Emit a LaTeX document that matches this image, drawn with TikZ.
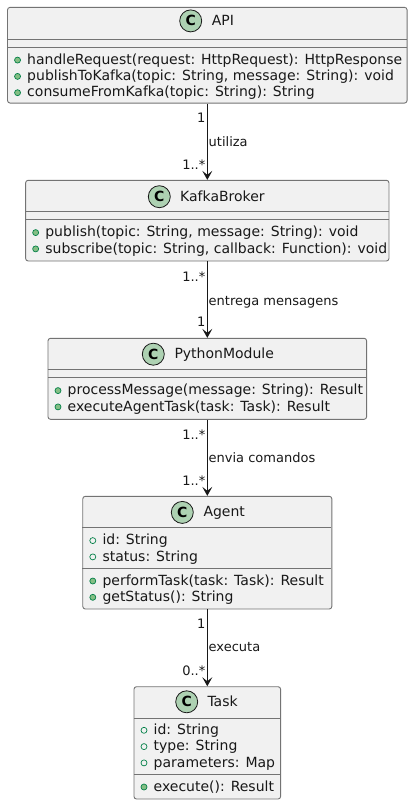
\documentclass[tikz,border=0pt]{standalone}
\usepackage{fontspec}
\setmainfont{DejaVu Sans}
\usetikzlibrary{arrows.meta}
\definecolor{boxbg}{HTML}{F1F1F1}
\definecolor{boxln}{HTML}{181818}
\definecolor{cbg}{HTML}{ADD1B2}
\definecolor{mfill}{HTML}{84BE84}
\definecolor{mline}{HTML}{038048}
\tikzset{
  classbox/.style={draw=black!55, line width=0.9bp, fill=boxbg, rounded corners=2.5bp, inner sep=0pt},
  sepline/.style={draw=black!55, line width=0.9bp},
  cicon/.style={circle, draw=boxln, line width=0.8bp, fill=cbg, minimum size=22bp, inner sep=0pt,
    font=\fontsize{14bp}{14bp}\selectfont\bfseries},
  ttl/.style={anchor=base west, inner sep=0pt, text=boxln, font=\fontsize{14bp}{16bp}\selectfont},
  mtxt/.style={anchor=base west, inner sep=0pt, text=boxln, font=\fontsize{14bp}{16bp}\selectfont},
  micon/.style={circle, draw=mline, fill=mfill, line width=0.7bp, minimum size=6bp, inner sep=0pt},
  ficon/.style={circle, draw=mline, fill=none, line width=0.7bp, minimum size=6bp, inner sep=0pt},
  mult/.style={anchor=base east, inner sep=0pt, text=boxln, font=\fontsize{13bp}{15bp}\selectfont},
  rel/.style={anchor=base west, inner sep=0pt, text=boxln, font=\fontsize{13bp}{15bp}\selectfont},
  conn/.style={draw=boxln, line width=1bp, -{Stealth[length=9bp,width=10bp,inset=4bp]}},
}
\newcommand\clsmem[5]{%
  \node[#4icon] (#1i) at (#2+10, #3-4.2) {};
  \node[mtxt] (#1) at (#2+19.5, #3) {#5};}
\begin{document}
\begin{tikzpicture}[x=1bp,y=-1bp]
\useasboundingbox (0,0) rectangle (413,805);

% API
\node[classbox, minimum width=399.5bp, minimum height=95.7bp] (api) at (207.3,55.2) {};
\draw[sepline] (api.north west) ++(0,32.2) -- ++(399.5,0);
\draw[sepline] (api.north west) ++(0,40.2) -- ++(399.5,0);
\node[cicon] (apic) at (190.7,20.9) {C};
\node[ttl] (apit) at (211.7,25.7) {API};
\clsmem{apim1}{7.55}{64.3}{m}{handleRequest(request: HttpRequest): HttpResponse}
\clsmem{apim2}{7.55}{80.6}{m}{publishToKafka(topic: String, message: String): void}
\clsmem{apim3}{7.55}{96.9}{m}{consumeFromKafka(topic: String): String}

% KafkaBroker
\node[classbox, minimum width=363.3bp, minimum height=80.7bp] (kafka) at (207.3,220.65) {};
\draw[sepline] (kafka.north west) ++(0,32) -- ++(363.3,0);
\draw[sepline] (kafka.north west) ++(0,40) -- ++(363.3,0);
\node[cicon] (kafkac) at (159.3,196.7) {C};
\node[ttl] (kafkat) at (180,201.5) {KafkaBroker};
\clsmem{kafkam1}{25.65}{236.8}{m}{publish(topic: String, message: String): void}
\clsmem{kafkam2}{25.65}{253.1}{m}{subscribe(topic: String, callback: Function): void}

% PythonModule
\node[classbox, minimum width=318.6bp, minimum height=81bp] (py) at (207.3,378.8) {};
\draw[sepline] (py.north west) ++(0,32) -- ++(318.6,0);
\draw[sepline] (py.north west) ++(0,40) -- ++(318.6,0);
\node[cicon] (pyc) at (153.3,354.2) {C};
\node[ttl] (pyt) at (174.3,358.7) {PythonModule};
\clsmem{pym1}{48}{394.8}{m}{processMessage(message: String): Result}
\clsmem{pym2}{48}{411.1}{m}{executeAgentTask(task: Task): Result}

% Agent
\node[classbox, minimum width=249bp, minimum height=112.7bp] (agent) at (207.3,552.65) {};
\draw[sepline] (agent.north west) ++(0,32) -- ++(249,0);
\draw[sepline] (agent.north west) ++(0,72.4) -- ++(249,0);
\node[cicon] (agentc) at (182.3,512.4) {C};
\node[ttl] (agentt) at (203.3,516.9) {Agent};
\clsmem{agentf1}{82.8}{544.8}{f}{id: String}
\clsmem{agentf2}{82.8}{561.1}{f}{status: String}
\clsmem{agentm1}{82.8}{585.2}{m}{performTask(task: Task): Result}
\clsmem{agentm2}{82.8}{601.5}{m}{getStatus(): String}

% Task
\node[classbox, minimum width=146.6bp, minimum height=112.3bp] (task) at (207.3,742.85) {};
\draw[sepline] (task.north west) ++(0,32) -- ++(146.6,0);
\draw[sepline] (task.north west) ++(0,88.6) -- ++(146.6,0);
\node[cicon] (taskc) at (186.7,701.8) {C};
\node[ttl] (taskt) at (207.3,706.3) {Task};
\clsmem{taskf1}{134}{734.5}{f}{id: String}
\clsmem{taskf2}{134}{750.8}{f}{type: String}
\clsmem{taskf3}{134}{767.1}{f}{parameters: Map}
\clsmem{taskm1}{134}{791.2}{m}{execute(): Result}

% connectors
\draw[conn] (api.south) -- (kafka.north);
\draw[conn] (kafka.south) -- (py.north);
\draw[conn] (py.south) -- (agent.north);
\draw[conn] (agent.south) -- (task.north);

% labels
\node[mult] (l1a) at (205.5,122.5) {1};
\node[rel]  (l1b) at (208.5,146.5) {utiliza};
\node[mult] (l1c) at (205.5,169.5) {1..*};
\node[mult] (l2a) at (205.5,281.5) {1..*};
\node[rel]  (l2b) at (208.5,305.2) {entrega mensagens};
\node[mult] (l2c) at (205.5,326.2) {1};
\node[mult] (l3a) at (205.5,439.5) {1..*};
\node[rel]  (l3b) at (208.5,462.2) {envia comandos};
\node[mult] (l3c) at (205.5,485.2) {1..*};
\node[mult] (l4a) at (205.5,628.8) {1};
\node[rel]  (l4b) at (208.5,651.8) {executa};
\node[mult] (l4c) at (205.5,675.2) {0..*};
\end{tikzpicture}
\end{document}
